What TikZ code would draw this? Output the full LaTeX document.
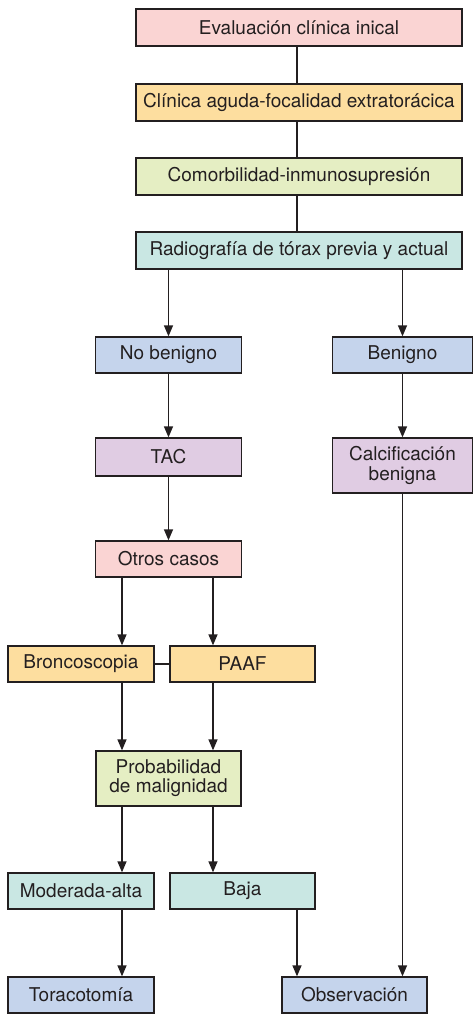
\documentclass[tikz,border=0pt]{standalone}
\usepackage{fontspec}
\setmainfont{TeX Gyre Heros}
\usetikzlibrary{arrows.meta}
\definecolor{rosa}{HTML}{FAD4D3}
\definecolor{naranja}{HTML}{FDDE9F}
\definecolor{verde}{HTML}{E5EEC3}
\definecolor{turquesa}{HTML}{C9E7E3}
\definecolor{azul}{HTML}{C5D4EC}
\definecolor{lila}{HTML}{E0CCE3}
\definecolor{tinta}{HTML}{231F20}
\begin{document}
\begin{tikzpicture}[x=0.5pt,y=-0.5pt,>={Triangle[length=5.5pt,width=4.5pt]},
		font=\fontsize{9.5}{9.6}\selectfont,line width=0.65pt,
		caja/.style={draw=tinta,text=tinta,align=center,inner sep=0pt},
		ancha/.style={caja,minimum width=163pt,minimum height=18.5pt},
		chica/.style={caja,minimum width=73pt,minimum height=18pt}]
			\useasboundingbox (0,0) rectangle (474,1014);
			% columnas de las flechas
			\coordinate (cl) at (122,0);
			\coordinate (cr) at (213,0);
			\coordinate (cm) at (297,0);
			\node[ancha,fill=rosa] (eval) at (299,27.5) {Evaluación clínica inical};
			\node[ancha,fill=naranja] (clinica) at (299,102.5) {Clínica aguda-focalidad extratorácica};
			\node[ancha,fill=verde] (comorb) at (299,176.5) {Comorbilidad-inmunosupresión};
			\node[ancha,fill=turquesa] (rx) at (299,250.5) {Radiografía de tórax previa y actual};
			\node[chica,fill=azul] (nobenigno) at (168.5,355) {No benigno};
			\node[chica,fill=azul,minimum width=70pt] (benigno) at (402.5,355) {Benigno};
			\node[chica,fill=lila,minimum height=19pt] (tac) at (168.5,457) {TAC};
			\node[chica,fill=lila,minimum width=70pt,minimum height=27.5pt] (calcif) at (402.5,465.5) {Calcificación\\benigna};
			\node[chica,fill=rosa] (otros) at (168.5,559) {Otros casos};
			\node[chica,fill=naranja] (bronco) at (81,664) {Broncoscopia};
			\node[chica,fill=naranja,minimum width=72.5pt] (paaf) at (242.5,664) {PAAF};
			\node[chica,fill=verde,minimum width=72.5pt,minimum height=27.5pt] (prob) at (168.5,778.5) {Probabilidad\\de malignidad};
			\node[chica,fill=turquesa] (moderada) at (81,891) {Moderada-alta};
			\node[chica,fill=turquesa,minimum width=72.5pt] (baja) at (242.5,891) {Baja};
			\node[chica,fill=azul] (toraco) at (81,995) {Toracotomía};
			\node[chica,fill=azul,minimum width=72.5pt] (observ) at (354.5,995) {Observación};
			\begin{scope}[draw=tinta]
				\draw (eval.south -| cm)--(clinica.north -| cm) (clinica.south -| cm)--(comorb.north -| cm)
					(comorb.south -| cm)--(rx.north -| cm);
				\draw[->] (rx.south -| nobenigno)--(nobenigno);
				\draw[->] (rx.south -| benigno)--(benigno);
				\draw[->] (nobenigno)--(tac);
				\draw[->] (benigno)--(calcif);
				\draw[->] (tac)--(otros);
				\draw[->] (otros.south -| cl)--(bronco.north -| cl);
				\draw[->] (otros.south -| cr)--(paaf.north -| cr);
				\draw (bronco)--(paaf);
				\draw[->] (bronco.south -| cl)--(prob.north -| cl);
				\draw[->] (paaf.south -| cr)--(prob.north -| cr);
				\draw[->] (prob.south -| cl)--(moderada.north -| cl);
				\draw[->] (prob.south -| cr)--(baja.north -| cr);
				\draw[->] (moderada.south -| cl)--(toraco.north -| cl);
				\draw[->] (baja.south -| cm)--(observ.north -| cm);
				\draw[->] (calcif.south)--(observ.north -| calcif);
			\end{scope}
		\end{tikzpicture}
\end{document}
